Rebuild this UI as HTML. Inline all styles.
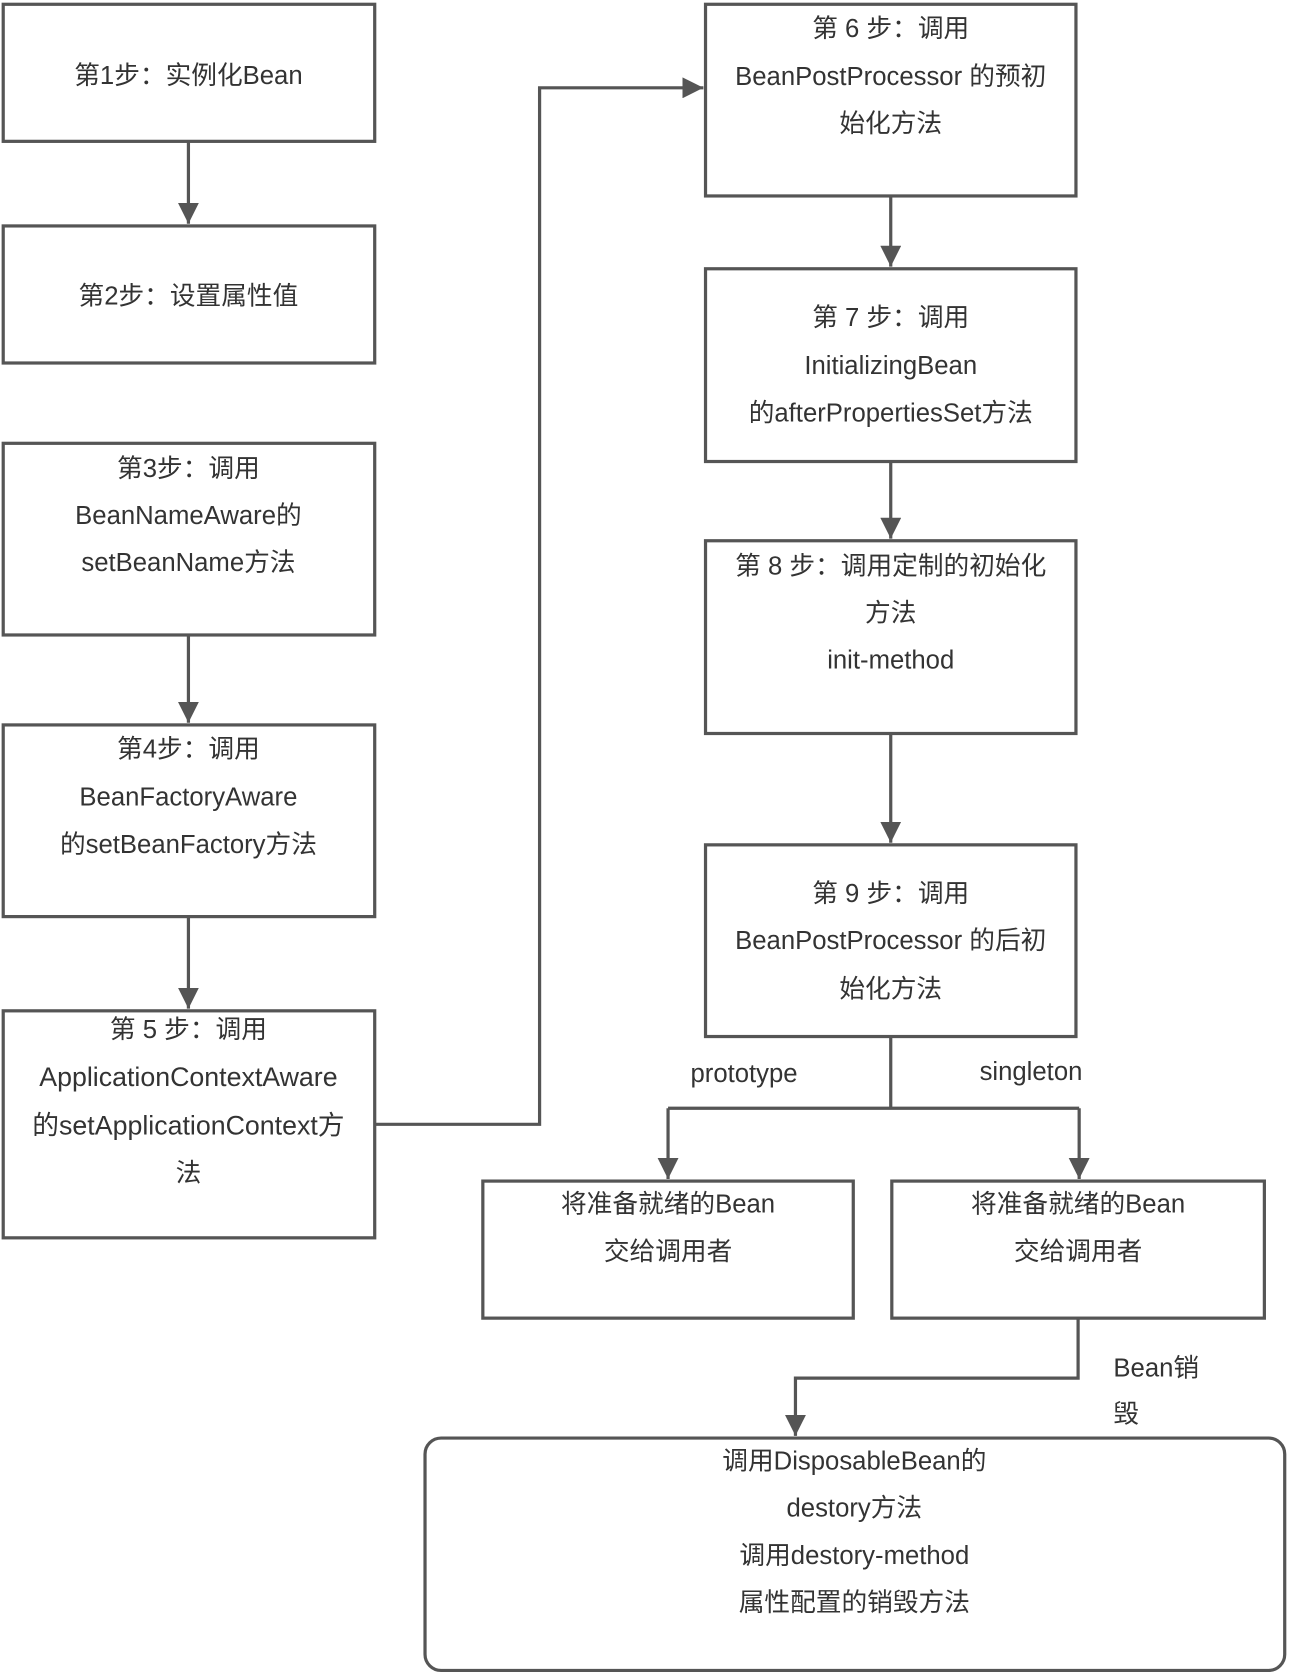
<!DOCTYPE html>
<html><head><meta charset="utf-8"><style>html,body{margin:0;padding:0;background:#fff}svg{display:block}</style></head>
<body>
<svg width="1289" height="1679" viewBox="0 0 1204 1568" preserveAspectRatio="none" xmlns="http://www.w3.org/2000/svg">
<defs><marker id="a" viewBox="0 0 10 10" refX="10" refY="5" markerWidth="7" markerHeight="7" markerUnits="userSpaceOnUse" orient="auto"><path d="M0,0L10,5L0,10z" fill="#555"/></marker>
<marker id="b" viewBox="0 0 10 10" refX="10" refY="5" markerWidth="6.5" markerHeight="6.5" orient="auto"><path d="M0,0L10,5L0,10z" fill="#555"/></marker></defs>
<g fill="none" stroke="#555" stroke-width="3">
<rect x="3" y="4" width="347" height="128"/>
<rect x="3" y="211" width="347" height="128"/>
<rect x="3" y="414" width="347" height="179"/>
<rect x="3" y="677" width="347" height="179"/>
<rect x="3" y="944" width="347" height="212"/>
<rect x="659" y="4" width="346" height="179"/>
<rect x="659" y="251" width="346" height="180"/>
<rect x="659" y="505" width="346" height="180"/>
<rect x="659" y="789" width="346" height="179"/>
<rect x="451" y="1103" width="346" height="128"/>
<rect x="833" y="1103" width="348" height="128"/>
<rect x="397" y="1343" width="803" height="217" rx="15"/>
<path d="M176 132V209" marker-end="url(#b)"/>
<path d="M176 593V675" marker-end="url(#b)"/>
<path d="M176 856V942" marker-end="url(#b)"/>
<path d="M832 183V249" marker-end="url(#b)"/>
<path d="M832 431V503" marker-end="url(#b)"/>
<path d="M832 685V787" marker-end="url(#b)"/>
<path d="M350 1050H504V82H657" marker-end="url(#b)"/>
<path d="M832 968V1035"/>
<path d="M624 1035H1008"/>
<path d="M624 1035V1101" marker-end="url(#b)"/>
<path d="M1008 1035V1101" marker-end="url(#b)"/>
<path d="M1007 1231V1287H743V1341" marker-end="url(#b)"/>
</g>
<g font-family="'Liberation Sans','Noto Sans CJK SC',sans-serif" font-size="24" fill="#333" text-anchor="middle" dominant-baseline="central">
<text x="176" y="71">第1步：实例化Bean</text>
<text x="176" y="277">第2步：设置属性值</text>
<text x="176" y="438">第3步：调用</text>
<text x="176" y="482">BeanNameAware的</text>
<text x="176" y="526">setBeanName方法</text>
<text x="176" y="700">第4步：调用</text>
<text x="176" y="745">BeanFactoryAware</text>
<text x="176" y="789">的setBeanFactory方法</text>
<text x="176" y="962">第 5 步：调用</text>
<text x="176" y="1006" font-size="25">ApplicationContextAware</text>
<text x="176" y="1051" font-size="25">的setApplicationContext方</text>
<text x="176" y="1096">法</text>
<text x="832" y="27">第 6 步：调用</text>
<text x="832" y="72">BeanPostProcessor 的预初</text>
<text x="832" y="116">始化方法</text>
<text x="832" y="297">第 7 步：调用</text>
<text x="832" y="342">InitializingBean</text>
<text x="832" y="386">的afterPropertiesSet方法</text>
<text x="832" y="529">第 8 步：调用定制的初始化</text>
<text x="832" y="573">方法</text>
<text x="832" y="617">init-method</text>
<text x="832" y="835">第 9 步：调用</text>
<text x="832" y="879">BeanPostProcessor 的后初</text>
<text x="832" y="924">始化方法</text>
<text x="695" y="1003">prototype</text>
<text x="963" y="1001">singleton</text>
<text x="624" y="1125">将准备就绪的Bean</text>
<text x="624" y="1169">交给调用者</text>
<text x="1007" y="1125">将准备就绪的Bean</text>
<text x="1007" y="1169">交给调用者</text>
<text x="1040" y="1278" text-anchor="start">Bean销</text>
<text x="1040" y="1321" text-anchor="start">毁</text>
<text x="798" y="1365">调用DisposableBean的</text>
<text x="798" y="1409">destory方法</text>
<text x="798" y="1453">调用destory-method</text>
<text x="798" y="1497">属性配置的销毁方法</text>
</g>
</svg>
</body></html>
